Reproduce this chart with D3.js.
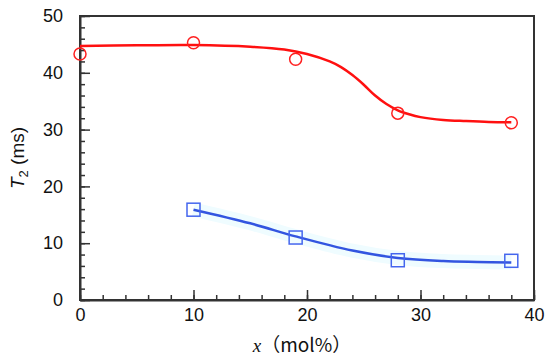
<!DOCTYPE html>
<html>
<head>
<meta charset="utf-8">
<script src="https://cdn.jsdelivr.net/npm/d3@7"></script>
<style>
  body { margin: 0; background: #fff; }
  svg { display: block; }
  .tick text { font-family: "Liberation Sans", Arial, sans-serif; }
</style>
</head>
<body>
<div id="chart"></div>
<script>
// measured points
var redX = [0, 10, 19, 28, 38];
var redY = [43.3, 45.3, 42.4, 32.9, 31.2];
var blueX = [10, 19, 28, 38];
var blueY = [15.9, 11.0, 7.0, 6.9];

// fitted curves
var redFitX = [0, 5, 10, 15, 18, 20, 22, 23, 24, 25, 26, 27, 28, 29, 30, 32, 34, 36, 38];
var redFitY = [44.7, 44.85, 44.9, 44.6, 44.1, 43.3, 42.0, 41.0, 39.6, 37.9, 36.0, 34.5, 33.4, 32.7, 32.2, 31.7, 31.5, 31.35, 31.3];
var blueFitX = [10, 15, 19, 24, 28, 32, 35, 38];
var blueFitY = [15.9, 13.5, 11.2, 8.7, 7.4, 6.85, 6.7, 6.6];

var xTicks = [0, 10, 20, 30, 40];
var yTicks = [0, 10, 20, 30, 40, 50];

var W = 550, H = 361;
var pL = 80, pR = 534, pT = 16, pB = 300;

var svg = d3.select("#chart").append("svg")
	.attr("width", W)
	.attr("height", H);

var x = d3.scaleLinear().domain([0, 40]).range([pL, pR]),
	y = d3.scaleLinear().domain([0, 50]).range([pB, pT]);

// frame: top and right lines
svg.append("rect")
	.attr("x", pL).attr("y", pT)
	.attr("width", pR - pL).attr("height", pB - pT)
	.attr("fill", "none")
	.attr("stroke", "#333")
	.attr("stroke-width", 2);

// minor ticks (every 2)
var minorX = d3.range(0, 41, 2), minorY = d3.range(0, 51, 2);

var gx = svg.append("g")
	.attr("transform", "translate(0," + pB + ")");
gx.call(d3.axisBottom(x).tickValues(minorX).tickSize(-5).tickFormat(""))
	.call(function(g) { g.select(".domain").remove(); });
gx.append("g").call(d3.axisBottom(x).tickValues(xTicks).tickSizeInner(-10).tickSizeOuter(0))
	.call(function(g) { g.select(".domain").attr("stroke-width", 2).attr("stroke", "#333"); })
	.selectAll("text")
	.attr("font-size", "18px")
	.attr("fill", "#111")
	.attr("y", 8)
	.attr("dy", "0.71em");

var gy = svg.append("g")
	.attr("transform", "translate(" + pL + ",0)");
gy.call(d3.axisLeft(y).tickValues(minorY).tickSize(-5).tickFormat(""))
	.call(function(g) { g.select(".domain").remove(); });
gy.append("g").call(d3.axisLeft(y).tickValues(yTicks).tickSizeInner(-10).tickSizeOuter(0))
	.call(function(g) { g.select(".domain").attr("stroke-width", 2).attr("stroke", "#333"); })
	.selectAll("text")
	.attr("x", -17)
	.attr("font-size", "18px")
	.attr("fill", "#111");

svg.selectAll(".tick line").attr("stroke", "#333").attr("stroke-width", 1.5);

var line = d3.line()
	.x(function(d) { return x(d[0]); })
	.y(function(d) { return y(d[1]); })
	.curve(d3.curveCatmullRom);

var redFit = redFitX.map(function(v, i) { return [v, redFitY[i]]; });
var blueFit = blueFitX.map(function(v, i) { return [v, blueFitY[i]]; });

// faint cyan halo round the blue curve
svg.append("path")
	.attr("d", line(blueFit))
	.attr("fill", "none")
	.attr("stroke", "#effcff")
	.attr("stroke-width", 14);

svg.append("path")
	.attr("d", line(redFit))
	.attr("fill", "none")
	.attr("stroke", "#ff1010")
	.attr("stroke-width", 2.5);

svg.append("path")
	.attr("d", line(blueFit))
	.attr("fill", "none")
	.attr("stroke", "#3355e0")
	.attr("stroke-width", 2.5);

svg.selectAll(".redpt")
	.data(redX)
	.enter().append("circle")
	.attr("class", "redpt")
	.attr("cx", function(d) { return x(d); })
	.attr("cy", function(d, i) { return y(redY[i]); })
	.attr("r", 6)
	.attr("fill", "none")
	.attr("stroke", "#ff2020")
	.attr("stroke-width", 1.5);

svg.selectAll(".bluept")
	.data(blueX)
	.enter().append("rect")
	.attr("class", "bluept")
	.attr("x", function(d) { return x(d) - 6.5; })
	.attr("y", function(d, i) { return y(blueY[i]) - 6.5; })
	.attr("width", 13)
	.attr("height", 13)
	.attr("fill", "none")
	.attr("stroke", "#4466ee")
	.attr("stroke-width", 1.5);

// axis titles
var yl = svg.append("text")
	.attr("transform", "translate(24,158) rotate(-90)")
	.attr("text-anchor", "middle")
	.attr("font-family", "Liberation Sans, Arial, sans-serif")
	.attr("font-size", "19px")
	.attr("fill", "#111");
yl.append("tspan").attr("font-style", "italic").text("T");
yl.append("tspan").attr("font-size", "13px").attr("dy", "4").text("2");
yl.append("tspan").attr("dy", "-4").text(" (ms)");

var xl = svg.append("text")
	.attr("x", 302)
	.attr("y", 352)
	.attr("text-anchor", "middle")
	.attr("font-size", "19px")
	.attr("fill", "#111");
xl.append("tspan").attr("font-family", "Liberation Serif, Times New Roman, serif").attr("font-style", "italic").text("x");
xl.append("tspan").attr("font-family", "Noto Sans CJK JP, sans-serif").text("（mol%）");
</script>
</body>
</html>
